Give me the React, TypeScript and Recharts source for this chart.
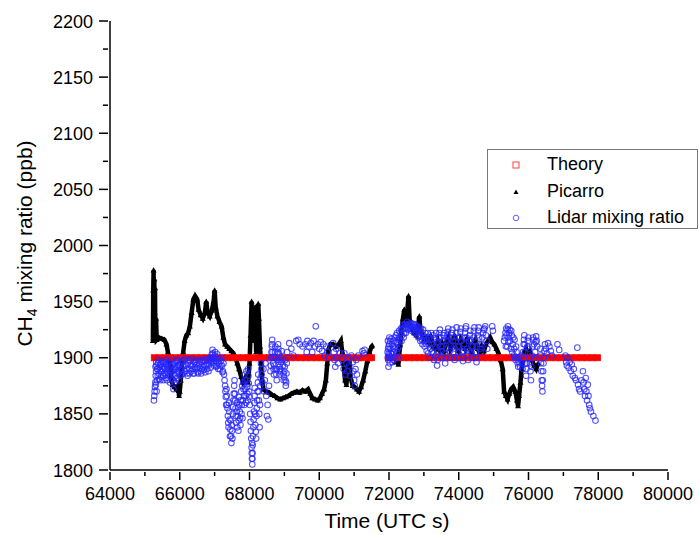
import { ScatterChart, Scatter, XAxis, YAxis, Label } from 'recharts';

// Sample times (UTC s) of the model curve; value is constant
const theoryTimesA = [
  65270, 65420, 65570, 65720, 65870, 66020, 66170, 66320, 66470, 66620, 66770, 66920,
  67070, 67220, 67370, 67520, 67670, 67820, 67970, 68120, 68270, 68420, 68570, 68720,
  68870, 69020, 69170, 69320, 69470, 69620, 69770, 69920, 70070, 70220, 70370, 70520,
  70670, 70820, 70970, 71120, 71270, 71420, 71500,
];
const theoryTimesB = [
  71980, 72130, 72280, 72430, 72580, 72730, 72880, 73030, 73180, 73330, 73480, 73630,
  73780, 73930, 74080, 74230, 74380, 74530, 74680, 74830, 74980, 75130, 75280, 75430,
  75580, 75730, 75880, 76030, 76180, 76330, 76480, 76630, 76780, 76930, 77080, 77230,
  77380, 77530, 77680, 77830, 77980,
];
const THEORY_PPB = 1900;

// Picarro in-situ CH4, [time, ppb], first leg
const picarroA: [number, number][] = [
  [65230, 1915], [65240, 1960], [65250, 1978], [65260, 1925], [65270, 1970], [65280, 1940],
  [65290, 1962], [65300, 1920], [65320, 1935], [65340, 1916], [65400, 1918], [65480, 1917],
  [65560, 1916], [65620, 1912], [65660, 1905], [65700, 1898], [65740, 1890], [65760, 1880],
  [65800, 1876], [65850, 1874], [65900, 1872], [65950, 1876], [65980, 1866], [66000, 1870],
  [66030, 1880], [66060, 1893], [66100, 1905], [66140, 1915], [66190, 1920], [66240, 1922],
  [66290, 1928], [66340, 1940], [66390, 1952], [66440, 1955], [66500, 1952], [66540, 1943],
  [66600, 1938], [66660, 1935], [66720, 1940], [66760, 1950], [66800, 1940], [66860, 1937],
  [66920, 1942], [66970, 1950], [67000, 1960], [67030, 1945], [67080, 1937], [67140, 1932],
  [67200, 1928], [67250, 1918], [67300, 1912], [67360, 1910], [67420, 1908], [67480, 1906],
  [67540, 1904], [67600, 1900], [67650, 1895], [67700, 1890], [67760, 1883], [67820, 1878],
  [67880, 1880], [67920, 1885], [67960, 1878], [68000, 1895], [68030, 1920], [68060, 1950],
  [68080, 1915], [68100, 1940], [68130, 1925], [68160, 1945], [68190, 1905], [68220, 1930],
  [68250, 1948], [68270, 1935], [68300, 1910], [68330, 1895], [68360, 1880], [68400, 1872],
  [68480, 1870], [68560, 1869], [68640, 1867], [68720, 1866], [68800, 1864], [68880, 1863],
  [68960, 1864], [69040, 1865], [69120, 1866], [69200, 1868], [69280, 1869], [69360, 1870],
  [69440, 1869], [69520, 1871], [69600, 1870], [69680, 1872], [69740, 1868], [69800, 1864],
  [69880, 1863], [69960, 1862], [70020, 1864], [70080, 1868], [70140, 1872], [70190, 1880],
  [70230, 1895], [70270, 1908], [70320, 1912], [70400, 1912], [70480, 1910], [70560, 1912],
  [70620, 1915], [70660, 1905], [70700, 1895], [70740, 1880], [70780, 1876], [70820, 1895],
  [70860, 1900], [70900, 1882], [70960, 1875], [71020, 1874], [71080, 1872], [71140, 1870],
  [71200, 1874], [71260, 1880], [71320, 1888], [71380, 1897], [71440, 1905], [71500, 1910],
  [71520, 1911],
];

// Picarro, second leg
const picarroB: [number, number][] = [
  [72190, 1896], [72230, 1900], [72270, 1894], [72320, 1912], [72360, 1925], [72400, 1935],
  [72440, 1943], [72480, 1930], [72520, 1940], [72560, 1955], [72590, 1935], [72620, 1928],
  [72670, 1925], [72720, 1922], [72780, 1920], [72840, 1930], [72870, 1937], [72900, 1925],
  [72960, 1920], [73020, 1916], [73080, 1918], [73140, 1914], [73200, 1920], [73260, 1910],
  [73330, 1908], [73400, 1915], [73460, 1907], [73520, 1912], [73580, 1906], [73640, 1914],
  [73700, 1918], [73760, 1908], [73820, 1913], [73880, 1920], [73940, 1910], [74000, 1906],
  [74060, 1916], [74120, 1912], [74180, 1908], [74240, 1918], [74300, 1910], [74360, 1905],
  [74420, 1912], [74480, 1916], [74540, 1908], [74600, 1904], [74660, 1910], [74720, 1906],
  [74780, 1912], [74840, 1915], [74900, 1918], [74960, 1914], [75020, 1912], [75080, 1908],
  [75140, 1904], [75200, 1898], [75260, 1890], [75300, 1870], [75350, 1866], [75400, 1863],
  [75450, 1868], [75500, 1872], [75560, 1874], [75620, 1870], [75670, 1862], [75700, 1857],
  [75730, 1866], [75770, 1878], [75800, 1890], [75840, 1898], [75880, 1905], [75930, 1908],
  [75980, 1902], [76040, 1905], [76100, 1898], [76160, 1893], [76220, 1890], [76280, 1895],
];

// Lidar-retrieved mixing ratio, [time, ppb], first leg
const lidarA: [number, number][] = [
  [65260, 1862], [65270, 1866], [65280, 1870], [65290, 1874], [65300, 1878], [65310, 1884],
  [65320, 1888], [65330, 1893], [65345, 1880], [65360, 1890], [65380, 1895], [65400, 1886],
  [65420, 1892], [65440, 1880], [65460, 1895], [65480, 1888], [65500, 1892], [65520, 1884],
  [65540, 1896], [65560, 1886], [65580, 1890], [65600, 1882], [65620, 1893], [65640, 1887],
  [65660, 1895], [65680, 1884], [65700, 1890], [65720, 1878], [65740, 1887], [65760, 1893],
  [65780, 1881], [65800, 1889], [65820, 1872], [65840, 1885], [65860, 1895], [65880, 1884],
  [65900, 1890], [65920, 1897], [65940, 1886], [65960, 1893], [65980, 1880], [66000, 1889],
  [66030, 1895], [66060, 1885], [66090, 1892], [66120, 1898], [66150, 1888], [66180, 1893],
  [66210, 1886], [66240, 1895], [66270, 1890], [66300, 1897], [66330, 1888], [66360, 1893],
  [66390, 1886], [66420, 1896], [66450, 1890], [66480, 1894], [66510, 1887], [66540, 1897],
  [66570, 1891], [66600, 1888], [66630, 1896], [66660, 1892], [66690, 1889], [66720, 1897],
  [66750, 1893], [66780, 1890], [66810, 1898], [66840, 1894], [66870, 1900], [66900, 1896],
  [66920, 1903], [66940, 1907], [66960, 1900], [66980, 1895], [67000, 1902], [67030, 1897],
  [67060, 1893], [67090, 1899], [67120, 1895], [67150, 1890], [67180, 1897], [67210, 1893],
  [67240, 1888], [67270, 1885], [67300, 1875], [67320, 1865], [67340, 1872], [67360, 1858],
  [67380, 1848], [67400, 1838], [67420, 1852], [67440, 1830], [67460, 1844], [67480, 1824],
  [67500, 1835], [67520, 1850], [67540, 1862], [67560, 1875], [67580, 1868], [67600, 1855],
  [67620, 1842], [67640, 1860], [67660, 1848], [67680, 1835], [67700, 1865], [67720, 1852],
  [67740, 1840], [67760, 1870], [67780, 1858], [67800, 1846], [67820, 1878], [67840, 1866],
  [67860, 1885], [67880, 1872], [67900, 1860], [67920, 1880], [67940, 1868], [67960, 1890],
  [67980, 1877], [68000, 1865], [68020, 1850], [68040, 1835], [68060, 1820], [68070, 1810],
  [68080, 1805], [68090, 1815], [68100, 1830], [68120, 1845], [68140, 1860], [68150, 1873],
  [68170, 1840], [68190, 1828], [68210, 1855], [68230, 1870], [68250, 1885], [68270, 1862],
  [68290, 1838], [68310, 1875], [68330, 1895], [68350, 1885], [68370, 1878], [68400, 1890],
  [68420, 1870], [68440, 1880], [68460, 1895], [68480, 1866], [68500, 1848], [68520, 1858],
  [68540, 1845], [68560, 1875], [68600, 1888], [68620, 1900], [68640, 1910], [68650, 1916],
  [68660, 1905], [68680, 1895], [68700, 1885], [68720, 1900], [68740, 1910], [68760, 1890],
  [68780, 1880], [68800, 1898], [68820, 1912], [68840, 1904], [68860, 1892], [68880, 1885],
  [68900, 1896], [68920, 1906], [68960, 1893], [68980, 1880], [69000, 1888], [69020, 1898],
  [69040, 1875], [69060, 1886], [69080, 1905], [69140, 1913], [69200, 1908], [69260, 1902],
  [69340, 1915], [69400, 1916], [69440, 1912], [69520, 1910], [69600, 1912], [69640, 1905],
  [69660, 1915], [69700, 1910], [69760, 1913], [69800, 1905], [69840, 1915], [69880, 1910],
  [69900, 1928], [69960, 1912], [70000, 1908], [70040, 1914], [70080, 1906], [70120, 1912],
  [70160, 1902], [70200, 1910], [70240, 1905], [70280, 1900], [70400, 1913], [70420, 1905],
  [70440, 1898], [70460, 1892], [70480, 1908], [70500, 1900], [70540, 1895], [70600, 1904],
  [70660, 1898], [70700, 1890], [70720, 1904], [70750, 1885], [70780, 1895], [70800, 1888],
  [70840, 1900], [70860, 1893], [70880, 1884], [70920, 1902], [70960, 1896], [70980, 1888],
  [71000, 1880], [71020, 1875], [71040, 1890], [71060, 1898], [71080, 1885], [71120, 1902],
  [71240, 1906], [71280, 1904], [71300, 1907],
];

// Lidar, first leg, interleaved returns between the samples above
const lidarA2: [number, number][] = [
  [65305, 1892], [65315, 1876], [65325, 1896], [65335, 1870], [65350, 1890], [65370, 1884],
  [65390, 1898], [65410, 1881], [65430, 1889], [65450, 1894], [65470, 1883], [65490, 1897],
  [65510, 1890], [65530, 1880], [65550, 1891], [65570, 1896], [65590, 1885], [65610, 1898],
  [65630, 1880], [65650, 1890], [65670, 1886], [65690, 1896], [65710, 1892], [65730, 1884],
  [65750, 1898], [65770, 1888], [65790, 1894], [65810, 1880], [65830, 1890], [65850, 1878],
  [65870, 1892], [65890, 1898], [65910, 1882], [65930, 1892], [65950, 1898], [65970, 1887],
  [65990, 1893], [66015, 1884], [66045, 1890], [66075, 1897], [66105, 1886], [66135, 1893],
  [66165, 1899], [66195, 1890], [66225, 1884], [66255, 1898], [66285, 1886], [66315, 1893],
  [66345, 1899], [66375, 1890], [66405, 1886], [66435, 1892], [66465, 1898], [66495, 1891],
  [66525, 1886], [66555, 1894], [66585, 1898], [66615, 1886], [66645, 1890], [66675, 1898],
  [66705, 1893], [66735, 1887], [66765, 1899], [66795, 1894], [66825, 1888], [66855, 1897],
  [66885, 1891], [66910, 1899], [66930, 1897], [66950, 1904], [66970, 1893], [66990, 1899],
  [67015, 1905], [67045, 1892], [67075, 1903], [67105, 1890], [67135, 1899], [67165, 1893],
  [67195, 1900], [67225, 1887], [67255, 1895], [67285, 1880], [67310, 1870], [67330, 1858],
  [67350, 1866], [67370, 1855], [67390, 1842], [67410, 1860], [67430, 1845], [67450, 1836],
  [67470, 1830], [67490, 1840], [67510, 1828], [67530, 1856], [67550, 1868], [67570, 1880],
  [67590, 1862], [67610, 1848], [67630, 1852], [67650, 1838], [67670, 1856], [67690, 1844],
  [67710, 1858], [67730, 1846], [67750, 1862], [67770, 1850], [67790, 1875], [67810, 1862],
  [67830, 1872], [67850, 1858], [67870, 1880], [67890, 1866], [67910, 1888], [67930, 1874],
  [67950, 1862], [67970, 1884], [67990, 1870], [68010, 1858], [68030, 1843], [68050, 1828],
  [68065, 1815], [68075, 1824], [68085, 1810], [68095, 1822], [68110, 1838], [68130, 1852],
  [68145, 1866], [68160, 1850], [68180, 1834], [68200, 1848], [68220, 1862], [68240, 1878],
  [68260, 1870], [68280, 1850], [68300, 1858], [68320, 1882], [68340, 1890], [68610, 1893],
  [68630, 1905], [68645, 1912], [68670, 1900], [68690, 1890], [68710, 1893], [68730, 1905],
  [68750, 1900], [68770, 1885], [68790, 1890], [68810, 1905], [68830, 1908], [68850, 1898],
  [68870, 1888], [68890, 1890], [68910, 1900], [68940, 1898], [68970, 1886], [68990, 1883],
  [69010, 1892], [69030, 1880], [69050, 1878], [69070, 1895],
];

// Lidar, second leg
const lidarB: [number, number][] = [
  [71960, 1905], [71970, 1915], [71980, 1898], [71990, 1910], [72000, 1902], [72010, 1918],
  [72020, 1895], [72040, 1908], [72060, 1900], [72080, 1912], [72100, 1896], [72120, 1905],
  [72140, 1915], [72160, 1900], [72180, 1910], [72200, 1920], [72220, 1905], [72240, 1913],
  [72260, 1900], [72280, 1918], [72300, 1910], [72330, 1922], [72360, 1915], [72390, 1925],
  [72420, 1918], [72450, 1927], [72480, 1922], [72510, 1929], [72540, 1925], [72570, 1930],
  [72600, 1926], [72630, 1931], [72660, 1928], [72690, 1925], [72720, 1930], [72750, 1926],
  [72780, 1922], [72810, 1928], [72840, 1918], [72870, 1924], [72900, 1915], [72930, 1922],
  [72960, 1912], [72990, 1920], [73020, 1910], [73050, 1918], [73080, 1906], [73110, 1922],
  [73140, 1912], [73170, 1900], [73200, 1916], [73230, 1905], [73260, 1920], [73290, 1898],
  [73320, 1910], [73350, 1922], [73380, 1893], [73400, 1905], [73430, 1918], [73460, 1925],
  [73490, 1910], [73520, 1900], [73550, 1915], [73580, 1922], [73610, 1895], [73640, 1908],
  [73670, 1920], [73700, 1926], [73730, 1912], [73760, 1900], [73790, 1918], [73820, 1925],
  [73850, 1905], [73880, 1898], [73910, 1915], [73940, 1927], [73970, 1910], [74000, 1900],
  [74030, 1918], [74060, 1926], [74090, 1905], [74120, 1897], [74150, 1912], [74180, 1922],
  [74210, 1928], [74240, 1908], [74270, 1898], [74300, 1915], [74330, 1924], [74360, 1910],
  [74390, 1900], [74420, 1918], [74450, 1927], [74480, 1905], [74510, 1896], [74540, 1920],
  [74570, 1927], [74600, 1912], [74640, 1905], [74680, 1918], [74720, 1925], [74760, 1928],
  [74800, 1915], [74820, 1908], [74960, 1928], [74980, 1924], [75300, 1915], [75340, 1922],
  [75360, 1926], [75390, 1910], [75410, 1928], [75430, 1918], [75460, 1925], [75490, 1908],
  [75520, 1920], [75550, 1912], [75580, 1902], [75600, 1916], [75630, 1898], [75660, 1905],
  [75690, 1895], [75720, 1900], [75760, 1892], [75800, 1902], [75830, 1890], [75860, 1912],
  [75880, 1920], [75900, 1905], [75930, 1884], [75950, 1895], [75980, 1915], [76010, 1908],
  [76040, 1895], [76070, 1880], [76100, 1902], [76130, 1918], [76160, 1912], [76190, 1905],
  [76220, 1919], [76250, 1910], [76340, 1908], [76360, 1895], [76380, 1880], [76400, 1870],
  [76420, 1888], [76440, 1900], [76470, 1912], [76500, 1908], [76530, 1904], [76560, 1913],
  [76600, 1910], [76640, 1906], [76670, 1902], [76830, 1912], [76880, 1907], [77060, 1902],
  [77080, 1896], [77100, 1893], [77120, 1900], [77150, 1891], [77180, 1896], [77210, 1888],
  [77240, 1894], [77270, 1884], [77300, 1890], [77330, 1882], [77360, 1880], [77400, 1909],
  [77420, 1876], [77450, 1872], [77480, 1870], [77520, 1880], [77560, 1888], [77580, 1878],
  [77600, 1872], [77620, 1866], [77640, 1882], [77660, 1870], [77680, 1862], [77700, 1876],
  [77720, 1866], [77740, 1858], [77760, 1855], [77790, 1852], [77860, 1848], [77920, 1844],
];

// Lidar, second leg, interleaved returns
const lidarB2: [number, number][] = [
  [71965, 1900], [71975, 1908], [71985, 1892], [71995, 1904], [72005, 1912], [72015, 1900],
  [72030, 1915], [72050, 1904], [72070, 1917], [72090, 1903], [72110, 1910], [72130, 1898],
  [72150, 1908], [72170, 1918], [72190, 1902], [72210, 1914], [72230, 1922], [72250, 1908],
  [72270, 1916], [72290, 1924], [72315, 1916], [72345, 1926], [72375, 1920], [72405, 1929],
  [72435, 1922], [72465, 1930], [72495, 1926], [72525, 1932], [72555, 1927], [72585, 1928],
  [72615, 1929], [72645, 1924], [72675, 1930], [72705, 1927], [72735, 1922], [72765, 1929],
  [72795, 1924], [72825, 1920], [72855, 1927], [72885, 1919], [72915, 1926], [72945, 1916],
  [72975, 1925], [73005, 1915], [73035, 1922], [73065, 1912], [73095, 1916], [73125, 1904],
  [73155, 1918], [73185, 1908], [73215, 1922], [73245, 1912], [73275, 1904], [73305, 1917],
  [73335, 1902], [73365, 1914], [73395, 1898], [73415, 1912], [73445, 1922], [73475, 1918],
  [73505, 1906], [73535, 1910], [73565, 1920], [73595, 1904], [73625, 1900], [73655, 1915],
  [73685, 1923], [73715, 1918], [73745, 1906], [73775, 1910], [73805, 1922], [73835, 1915],
  [73865, 1900], [73895, 1908], [73925, 1922], [73955, 1918], [73985, 1905], [74015, 1910],
  [74045, 1923], [74075, 1915], [74105, 1900], [74135, 1906], [74165, 1918], [74195, 1926],
  [74225, 1918], [74255, 1902], [74285, 1906], [74315, 1920], [74345, 1916], [74375, 1904],
  [74405, 1910], [74435, 1924], [74465, 1915], [74495, 1900], [74525, 1910], [74555, 1924],
  [74585, 1918], [74620, 1908], [74660, 1912], [74700, 1922], [74740, 1926], [74780, 1920],
  [75320, 1918], [75350, 1910], [75370, 1920], [75400, 1925], [75420, 1914], [75445, 1922],
  [75475, 1915], [75505, 1924], [75535, 1905], [75565, 1918], [75590, 1908], [75615, 1900],
  [75645, 1910], [75675, 1900], [75705, 1892], [75740, 1896], [75780, 1898], [75815, 1895],
  [75845, 1905], [75870, 1916], [75890, 1912], [75915, 1895], [75940, 1890], [75965, 1910],
  [75995, 1918], [76025, 1900], [76055, 1888], [76085, 1892], [76115, 1910], [76145, 1916],
  [76175, 1900], [76205, 1914], [76235, 1915], [76350, 1902], [76370, 1888], [76390, 1875],
  [76410, 1880], [76430, 1895], [76455, 1906],
];

const xTicks = [
  64000, 65000, 66000, 67000, 68000, 69000, 70000, 71000, 72000,
  73000, 74000, 75000, 76000, 77000, 78000, 79000, 80000,
];
const yTicks = [
  1800, 1825, 1850, 1875, 1900, 1925, 1950, 1975, 2000,
  2025, 2050, 2075, 2100, 2125, 2150, 2175, 2200,
];

const toPoints = (rows: [number, number][]) => rows.map(([t, ppb]) => ({ t, ppb }));
const theory = [...theoryTimesA, ...theoryTimesB].map(t => ({ t, ppb: THEORY_PPB }));
const lidar = toPoints([...lidarA, ...lidarA2, ...lidarB, ...lidarB2]);

const FONT = "'Liberation Sans', Arial, Helvetica, sans-serif";

const XTick = ({ x, y, payload }: any) => {
  const major = payload.value % 2000 === 0;
  return (
    <g>
      <line x1={x} x2={x} y1={y} y2={y + (major ? 8 : 4)} stroke="#000" strokeWidth={1.5} />
      {major && (
        <text x={x} y={y + 28} textAnchor="middle" fontSize={18} fill="#000">{payload.value}</text>
      )}
    </g>
  );
};

const YTick = ({ x, y, payload }: any) => {
  const major = payload.value % 50 === 0;
  return (
    <g>
      <line x1={x - (major ? 9 : 5)} x2={x} y1={y} y2={y} stroke="#000" strokeWidth={1.5} />
      {major && (
        <text x={x - 15} y={y + 6.5} textAnchor="end" fontSize={18} fill="#000">{payload.value}</text>
      )}
    </g>
  );
};

const XTitle = ({ viewBox }: any) => (
  <text x={viewBox.x + viewBox.width / 2 - 2} y={viewBox.y + 58} textAnchor="middle" fontSize={21} fill="#000">
    Time (UTC s)
  </text>
);

const YTitle = ({ viewBox }: any) => {
  const cx = viewBox.x - 18;
  const cy = viewBox.y + viewBox.height / 2 - 2;
  return (
    <text x={cx} y={cy} transform={`rotate(-90 ${cx} ${cy})`} textAnchor="middle" fontSize={21} fill="#000">
      CH<tspan fontSize={14} dy={5}>4</tspan><tspan dy={-5}> mixing ratio (ppb)</tspan>
    </text>
  );
};

const Square = ({ cx, cy }: any) => (
  <rect x={cx - 3} y={cy - 3} width={6} height={6} fill="#ff0000" stroke="#ff0000" strokeWidth={0.8} />
);
const Triangle = ({ cx, cy }: any) => (
  <path d={`M${cx},${cy - 3.2}L${cx + 3},${cy + 2.2}L${cx - 3},${cy + 2.2}Z`} fill="#000" />
);
const Ring = ({ cx, cy }: any) => (
  <circle cx={cx} cy={cy} r={2.8} fill="none" stroke="#2525ff" strokeOpacity={0.8} strokeWidth={1.05} />
);

const legendRows = [
  { label: 'Theory', icon: <rect x={2} y={2} width={6} height={6} fill="none" stroke="#ff4040" strokeWidth={1} /> },
  { label: 'Picarro', icon: <path d="M5,2.5L7.5,7L2.5,7Z" fill="#000" /> },
  { label: 'Lidar mixing ratio', icon: <circle cx={5} cy={5} r={2.8} fill="none" stroke="#6060ff" strokeWidth={1} /> },
];

export default function App() {
  const line = { stroke: '#000', strokeWidth: 4.5 };
  return (
    <div style={{ position: 'absolute', left: 0, top: 0, width: 699, height: 535, overflow: 'hidden', background: '#fff', fontFamily: FONT }}>
      <ScatterChart width={699} height={535} margin={{ top: 21, right: 31, bottom: 25, left: 50 }}>
        <XAxis
          type="number"
          dataKey="t"
          domain={[64000, 80000]}
          ticks={xTicks}
          interval={0}
          tickSize={0}
          tick={XTick}
          height={40}
          axisLine={{ stroke: '#000', strokeWidth: 1.5 }}
          allowDataOverflow
        >
          <Label content={XTitle} />
        </XAxis>
        <YAxis
          type="number"
          dataKey="ppb"
          domain={[1800, 2200]}
          ticks={yTicks}
          interval={0}
          tickSize={0}
          tick={YTick}
          width={60}
          axisLine={{ stroke: '#000', strokeWidth: 1.5 }}
          allowDataOverflow
        >
          <Label content={YTitle} />
        </YAxis>
        <Scatter name="Picarro" data={toPoints(picarroA)} line={line} shape={Triangle} isAnimationActive={false} />
        <Scatter name="Picarro" data={toPoints(picarroB)} line={line} shape={Triangle} isAnimationActive={false} />
        <Scatter name="Theory" data={theory} shape={Square} isAnimationActive={false} />
        <Scatter name="Lidar mixing ratio" data={lidar} shape={Ring} isAnimationActive={false} />
      </ScatterChart>
      <div
        style={{
          position: 'absolute', left: 487, top: 149, width: 211, height: 80,
          border: '1px solid #777', boxSizing: 'border-box', background: '#fff',
        }}
      >
        {legendRows.map((row, i) => (
          <div key={row.label} style={{ position: 'absolute', left: 0, top: 3 + i * 26.5, height: 24, width: '100%' }}>
            <svg width={10} height={10} style={{ position: 'absolute', left: 23, top: 7 }}>{row.icon}</svg>
            <span style={{ position: 'absolute', left: 59, top: 1, fontSize: 18, lineHeight: '20px', color: '#000', whiteSpace: 'nowrap' }}>
              {row.label}
            </span>
          </div>
        ))}
      </div>
    </div>
  );
}
